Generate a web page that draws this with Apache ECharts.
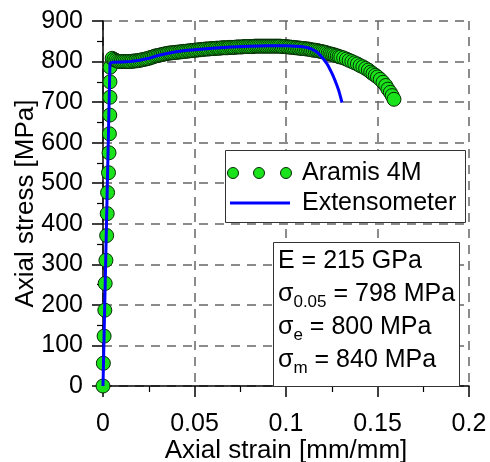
<!DOCTYPE html>
<html><head><meta charset="utf-8">
<script src="https://cdn.jsdelivr.net/npm/echarts@6/dist/echarts.min.js"></script>
<style>html,body{margin:0;padding:0;background:#fff}#c{width:490px;height:462px}</style>
</head><body><div id="c"></div>
<script>
// Aramis 4M (strain, stress)
var aramisStrain = [0,0.0002,0.0006,0.0010,0.0012,0.0016,0.0020,0.0023,0.0025,0.0030,0.0033,0.0035,0.0037,0.0038,0.0038,0.0039,0.0050,
 0.006,0.007,0.008,0.009,0.010,0.011,0.012,0.013,0.014,0.015,0.016,0.017,0.018,0.019,0.020,
 0.021,0.022,0.023,0.024,0.025,0.026,0.027,0.028,0.029,0.030,0.031,0.032,0.033,0.034,0.035,
 0.036,0.037,0.038,0.039,0.040,0.041,0.042,0.043,0.044,0.045,0.046,0.047,0.048,0.049,0.050,
 0.051,0.052,0.053,0.054,0.055,0.056,0.057,0.058,0.059,0.060,0.061,0.062,0.063,0.064,0.065,
 0.066,0.067,0.068,0.069,0.070,0.071,0.072,0.073,0.074,0.075,0.076,0.077,0.078,0.079,0.080,
 0.081,0.082,0.083,0.084,0.085,0.086,0.087,0.088,0.089,0.090,0.091,0.092,0.093,0.094,0.095,
 0.096,0.097,0.098,0.099,0.100,0.101,0.102,0.103,0.104,0.105,0.106,0.107,0.108,0.109,0.110,
 0.111,0.112,0.113,0.114,0.115,0.116,0.117,0.118,0.119,0.120,0.121,0.122,0.123,0.124,0.125,
 0.126,0.127,0.128,0.129,0.130,
 0.1315,0.133,0.1345,0.136,0.1375,0.139,0.1405,0.142,0.1435,0.145,0.1463,0.1475,0.1488,0.150,
 0.1515,0.153,0.1545,0.1557,0.157,0.158,0.159];
var aramisStress = [0,56,123,187,253,310,371,425,477,526,575,622,668,712,750,786,808,
 805,803,801,800,800,800,800,800,800,800,801,801,802,802,803,
 804,805,806,807,808,810,811,813,814,815,816,817,818,819,820,
 821,821,822,822,823,823,824,824,825,825,826,826,827,827,828,
 828,829,829,830,830,831,831,831,832,832,832,833,833,833,834,
 834,834,834,835,835,835,835,836,836,836,836,837,837,837,837,
 837,837,838,838,838,838,838,838,838,838,838,838,838,838,838,
 838,838,837,837,837,836,836,835,835,834,834,833,833,832,832,
 831,831,830,829,828,828,827,826,825,824,823,822,820,819,818,
 817,815,814,812,811,
 809,806,803,800,797,794,790,787,783,779,774,770,766,762,
 756,749,741,732,724,716,707];
// Extensometer (strain, stress)
var extStrain = [0,0.0038,0.005,0.010,0.015,0.020,0.025,0.030,0.035,0.040,0.045,0.050,0.060,0.070,0.080,0.090,0.100,0.105,0.108,0.110,0.112,0.114,0.116,0.1175,0.119,0.1205,0.122,0.123,0.124,0.125,0.126,0.127,0.128,0.129,0.1298,0.1306];
var extStress = [0,796,798,799,800,803,808,815,820,824,827,829,833,836,838,839,839,838,837,836,834,831,826,821,814,806,797,790,781,772,762,751,739,726,713,699];
var xTicks = [0,0.05,0.1,0.15,0.2];
var yTicks = [0,100,200,300,400,500,600,700,800,900];

var FONT = "'Liberation Sans', Arial, sans-serif";
function zip(a,b){return a.map(function(v,i){return [v,b[i]];});}
var chart = echarts.init(document.getElementById('c'), null, {renderer:'canvas'});
var gridLine = {show:true, lineStyle:{color:'#666', width:1.5, type:[9,7]}};
chart.setOption({
  animation:false,
  grid:{left:103, right:21, top:21, bottom:76, containLabel:false, outerBoundsMode:'none'},
  xAxis:{type:'value', min:xTicks[0], max:xTicks[xTicks.length-1], interval:0.05,
    name:'Axial strain [mm/mm]', nameLocation:'middle', nameGap:52, nameMoveOverlap:false,
    nameTextStyle:{fontFamily:FONT, fontSize:26, color:'#000'},
    axisLine:{lineStyle:{color:'#000', width:1.5}},
    axisTick:{show:true, inside:false, length:11, lineStyle:{color:'#000', width:1.5}},
    minorTick:{show:true, splitNumber:2, length:6, lineStyle:{color:'#000', width:1.2}},
    axisLabel:{fontFamily:FONT, fontSize:25, color:'#000', margin:26,
      formatter:function(v){return String(+v.toFixed(3));}},
    splitLine:gridLine},
  yAxis:{type:'value', min:yTicks[0], max:yTicks[yTicks.length-1], interval:100,
    name:'Axial stress [MPa]', nameLocation:'middle', nameGap:64, nameMoveOverlap:false,
    nameTextStyle:{fontFamily:FONT, fontSize:26, color:'#000'},
    axisLine:{show:true, lineStyle:{color:'#000', width:1.5}},
    axisTick:{show:true, inside:false, length:11, lineStyle:{color:'#000', width:1.5}},
    minorTick:{show:true, splitNumber:2, length:6, lineStyle:{color:'#000', width:1.2}},
    axisLabel:{fontFamily:FONT, fontSize:25, color:'#000', margin:20},
    splitLine:gridLine},
  series:[
    {name:'Aramis 4M', type:'scatter', data:zip(aramisStrain, aramisStress), symbol:'circle', symbolSize:14,
      itemStyle:{color:'#1be31b', borderColor:'#052a05', borderWidth:1, opacity:1}, z:2},
    {name:'Extensometer', type:'line', data:zip(extStrain, extStress), showSymbol:false, smooth:false,
      lineStyle:{color:'#0000ff', width:3}, z:3}
  ],
  graphic:[
    {type:'rect', shape:{x:225.5, y:150.5, width:240, height:72}, style:{fill:'#fff', stroke:'#333', lineWidth:1}, z:10},
    {type:'circle', shape:{cx:233, cy:173, r:5.5}, style:{fill:'#1be31b', stroke:'#052a05', lineWidth:1}, z:11},
    {type:'circle', shape:{cx:259, cy:173, r:5.5}, style:{fill:'#1be31b', stroke:'#052a05', lineWidth:1}, z:11},
    {type:'circle', shape:{cx:286, cy:173, r:5.5}, style:{fill:'#1be31b', stroke:'#052a05', lineWidth:1}, z:11},
    {type:'text', x:302, y:173, style:{text:'Aramis 4M', font:'25px '+FONT, fill:'#000', textVerticalAlign:'middle'}, z:11},
    {type:'line', shape:{x1:230, y1:203, x2:290, y2:203}, style:{stroke:'#0000ff', lineWidth:3}, z:11},
    {type:'text', x:302, y:203, style:{text:'Extensometer', font:'25px '+FONT, fill:'#000', textVerticalAlign:'middle'}, z:11},
    {type:'rect', shape:{x:273.5, y:242.5, width:186, height:144}, style:{fill:'#fff', stroke:'#333', lineWidth:1}, z:10},
    {type:'text', x:278, y:245, z:11, style:{
      text:'{m|E = 215 GPa}\n{m|σ}{s|0.05}{m| = 798 MPa}\n{m|σ}{s|e}{m| = 800 MPa}\n{m|σ}{s|m}{m| = 840 MPa}',
      fill:'#000',
      rich:{
        m:{fontFamily:FONT, fontSize:25, lineHeight:33, fill:'#000'},
        s:{fontFamily:FONT, fontSize:17, lineHeight:19, verticalAlign:'bottom', fill:'#000'}
      }}}
  ]
});
</script></body></html>
